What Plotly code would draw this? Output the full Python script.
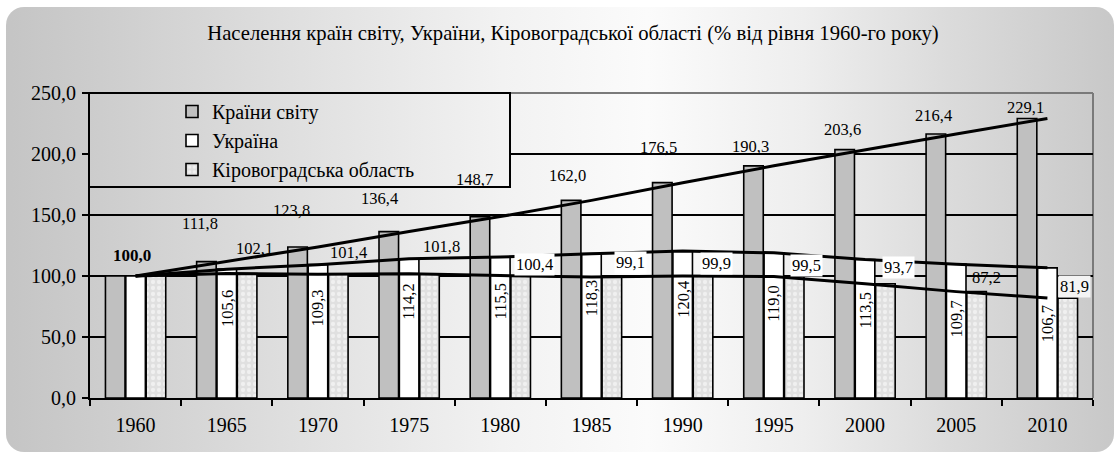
import base64
import plotly.graph_objects as go

# ---------------- data ----------------
years = ["1960", "1965", "1970", "1975", "1980", "1985", "1990", "1995", "2000", "2005", "2010"]
world = [100.0, 111.8, 123.8, 136.4, 148.7, 162.0, 176.5, 190.3, 203.6, 216.4, 229.1]
ukraine = [100.0, 105.6, 109.3, 114.2, 115.5, 118.3, 120.4, 119.0, 113.5, 109.7, 106.7]
kirov = [100.0, 102.1, 101.4, 101.8, 100.4, 99.1, 99.9, 99.5, 93.7, 87.2, 81.9]
y_ticks = [0, 50, 100, 150, 200, 250]
series_names = ["Країни світу", "Україна", "Кіровоградська область"]
title_text = "Населення країн світу, України, Кіровоградської області (% від рівня 1960-го року)"

# ---------------- styling / label placement (pixels) ----------------
W, H = 1116, 454
PL, PR, PT, PB = 90, 23, 93, 56
PW, PH = W - PL - PR, H - PT - PB
FONT = "Liberation Serif"
BAR_STEP = 20.4                     # px between neighbouring bars of a cluster
world_lift = [38, 36, 33, 37, 25, 35, 19, 20, 18, 11]
world_dx = [-6, -6, -9, -5, -4, -4, -3, -2, -2, -2]
ukr_drop = [39, 43, 43, 44, 44, 48, 50, 51, 55, 56]
kir_lift = [25, 22, 27, 11, 15, 13, 11, 16, 14, 12]
kir_dx = [7, 10, 12, 14, 19, 13, 12, 13, 10, 7]
kir_bg = [None, None, None, "white", "white", "white", "white", "white", None, "#f4f4f4"]

grad_stops = [(0.0, "#c4c4c4"), (0.09, "#cdcdcd"), (0.27, "#e0e0e0"), (0.45, "#f2f2f2"),
              (0.58, "#fbfbfb"), (0.72, "#eeeeee"), (0.85, "#dbdbdb"), (1.0, "#c8c8c8")]


def fmt(v):
    return f"{v:.1f}".replace(".", ",")


def svg_uri(content):
    stops = "".join(f'<stop offset="{o}" stop-color="{c}"/>' for o, c in grad_stops)
    svg = (f'<svg xmlns="http://www.w3.org/2000/svg" width="{W}" height="{H}" '
           f'viewBox="0 0 {W} {H}" preserveAspectRatio="none"><defs>'
           f'<linearGradient id="g" gradientUnits="userSpaceOnUse" x1="0" y1="0" x2="{W}" y2="0">'
           f'{stops}</linearGradient></defs>{content}</svg>')
    return "data:image/svg+xml;base64," + base64.b64encode(svg.encode("utf-8")).decode()


bg_uri = svg_uri('<rect x="6" y="7" width="1108" height="445" rx="18" ry="18" fill="url(#g)"/>')
legend_uri = svg_uri('<rect x="89" y="93" width="421" height="94" fill="url(#g)" '
                     'stroke="black" stroke-width="2"/>')

fig = go.Figure()

fig.add_trace(go.Bar(
    x=years, y=world, name=series_names[0],
    marker=dict(color="#c0c0c0", line=dict(color="black", width=1.6)),
))
fig.add_trace(go.Bar(
    x=years, y=ukraine, name=series_names[1],
    marker=dict(color="white", line=dict(color="black", width=1.6)),
))
fig.add_trace(go.Bar(
    x=years, y=kirov, name=series_names[2],
    marker=dict(color="#e6e6e6", line=dict(color="black", width=1.6),
                pattern=dict(shape=".", fgcolor="#ffffff", bgcolor="#e0e0e0",
                             size=6, solidity=0.4)),
))

for vals in (world, ukraine, kirov):
    fig.add_trace(go.Scatter(
        x=years, y=vals, mode="lines", showlegend=False, hoverinfo="skip",
        line=dict(color="black", width=3),
    ))

annotations = []
lab_font = dict(family=FONT, size=16.5, color="black")
# 1960: all series equal 100
annotations.append(dict(x=0, y=world[0], xref="x", yref="y", text="<b>" + fmt(world[0]) + "</b>",
                        showarrow=False, yshift=21, xshift=-4, font=dict(family=FONT, size=17, color="black")))
for i in range(1, len(years)):
    k = i - 1
    annotations.append(dict(x=i, y=world[i], xref="x", yref="y", text=fmt(world[i]),
                            showarrow=False, yanchor="middle", yshift=world_lift[k],
                            xshift=-BAR_STEP + world_dx[k], font=lab_font))
    annotations.append(dict(x=i, y=ukraine[i], xref="x", yref="y", text=fmt(ukraine[i]),
                            showarrow=False, yanchor="middle", textangle=-90,
                            yshift=-ukr_drop[k], font=lab_font))
    a = dict(x=i, y=kirov[i], xref="x", yref="y", text=fmt(kirov[i]),
             showarrow=False, yanchor="middle", yshift=kir_lift[k],
             xshift=BAR_STEP + kir_dx[k], font=lab_font, borderpad=1)
    if kir_bg[k]:
        a["bgcolor"] = kir_bg[k]
    annotations.append(a)

fig.update_layout(
    width=W, height=H,
    margin=dict(l=PL, r=PR, t=PT, b=PB, autoexpand=False),
    paper_bgcolor="white", plot_bgcolor="rgba(0,0,0,0)",
    barmode="group", bargap=0.33, bargroupgap=0.04,
    font=dict(family=FONT, size=19, color="black"),
    title=dict(text=title_text, x=573 / W, xref="container", xanchor="center",
               y=1 - 33 / H, yref="container", yanchor="middle",
               font=dict(family=FONT, size=20.7, color="black")),
    showlegend=True,
    legend=dict(x=(172 - PL) / PW, y=1.0 + 1 / PH, xanchor="left", yanchor="top",
                bgcolor="rgba(0,0,0,0)", borderwidth=0, tracegroupgap=0,
                font=dict(family=FONT, size=20, color="black"), itemwidth=30),
    xaxis=dict(type="category", range=[-0.5, len(years) - 0.5], showline=True,
               linecolor="black", linewidth=2,
               ticks="outside", tickson="boundaries", ticklen=6, tickwidth=1.5, tickcolor="black",
               showgrid=False, tickfont=dict(family=FONT, size=20), ticklabelstandoff=8),
    yaxis=dict(range=[0, 250], tickvals=y_ticks, ticktext=[fmt(v) for v in y_ticks],
               showline=True, linecolor="black", linewidth=2,
               ticks="outside", ticklen=6, tickwidth=1.5, tickcolor="black",
               showgrid=True, gridcolor="black", gridwidth=1.5, zeroline=False,
               tickfont=dict(family=FONT, size=20), ticklabelstandoff=2),
    images=[
        dict(source=bg_uri, xref="paper", yref="paper", x=-PL / PW, y=(PH + PT) / PH,
             sizex=W / PW, sizey=H / PH, xanchor="left", yanchor="top",
             sizing="stretch", layer="below"),
        dict(source=legend_uri, xref="paper", yref="paper", x=-PL / PW, y=(PH + PT) / PH,
             sizex=W / PW, sizey=H / PH, xanchor="left", yanchor="top",
             sizing="stretch", layer="above"),
    ],
    shapes=[
        dict(type="line", xref="paper", yref="paper", x0=0, x1=1, y0=1, y1=1,
             line=dict(color="#7a7a7a", width=2), layer="between"),
        dict(type="line", xref="paper", yref="paper", x0=1, x1=1, y0=0, y1=1,
             line=dict(color="#7a7a7a", width=2), layer="between"),
    ],
    annotations=annotations,
)

fig.write_html("out.html", config={"displayModeBar": False},
               post_script="document.body.style.margin='0';document.body.style.padding='0';")
